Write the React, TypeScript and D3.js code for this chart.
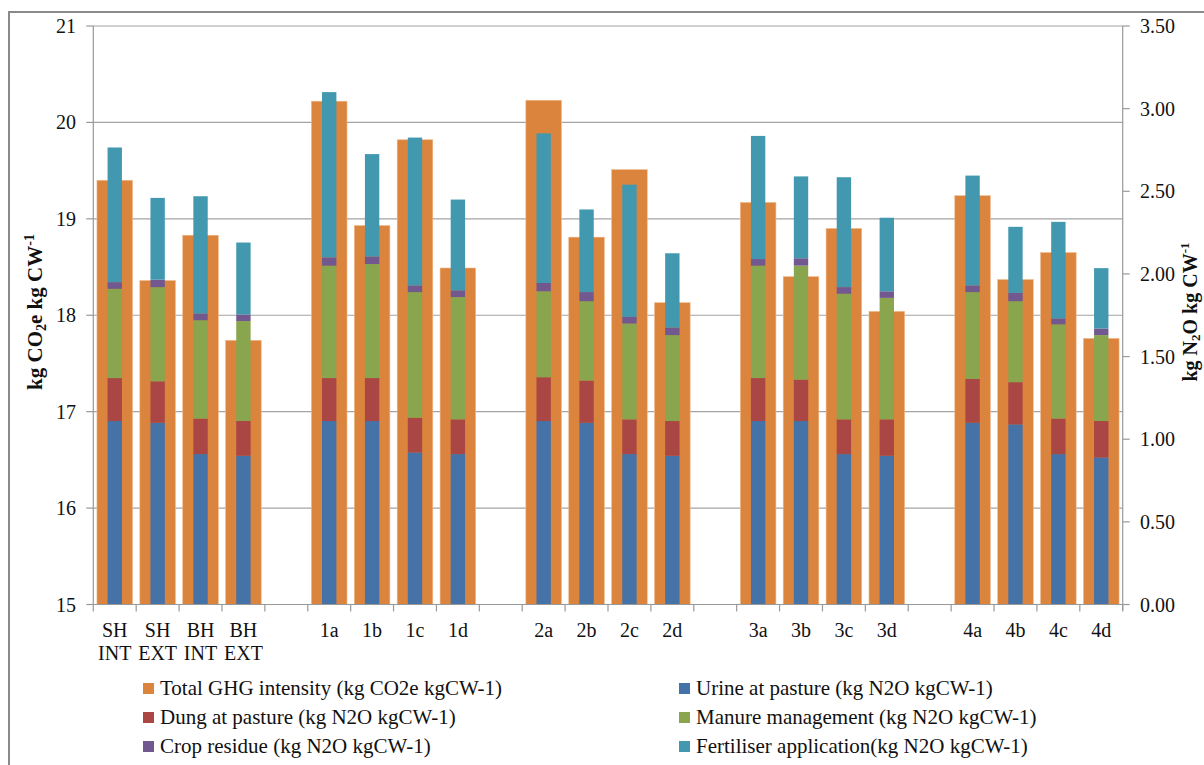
import React from 'react';
import * as d3 from 'd3';

const categories = ['SH INT', 'SH EXT', 'BH INT', 'BH EXT', '1a', '1b', '1c', '1d', '2a', '2b', '2c', '2d', '3a', '3b', '3c', '3d', '4a', '4b', '4c', '4d'];
const totalGHG = [19.40, 18.36, 18.83, 17.74, 20.22, 18.93, 19.82, 18.49, 20.23, 18.81, 19.51, 18.13, 19.17, 18.40, 18.90, 18.04, 19.24, 18.37, 18.65, 17.76];
const urine = [1.11, 1.10, 0.91, 0.90, 1.11, 1.11, 0.92, 0.91, 1.11, 1.10, 0.91, 0.90, 1.11, 1.11, 0.91, 0.90, 1.10, 1.09, 0.91, 0.89];
const dung = [0.26, 0.25, 0.215, 0.21, 0.26, 0.26, 0.21, 0.21, 0.265, 0.255, 0.21, 0.21, 0.26, 0.25, 0.21, 0.22, 0.265, 0.255, 0.215, 0.22];
const manure = [0.54, 0.57, 0.595, 0.605, 0.68, 0.69, 0.76, 0.74, 0.52, 0.48, 0.58, 0.52, 0.68, 0.69, 0.76, 0.735, 0.525, 0.49, 0.57, 0.52];
const crop = [0.04, 0.045, 0.04, 0.04, 0.05, 0.045, 0.04, 0.04, 0.05, 0.055, 0.04, 0.045, 0.04, 0.045, 0.04, 0.04, 0.04, 0.05, 0.035, 0.04];
const fert = [0.815, 0.495, 0.71, 0.435, 1.0, 0.62, 0.895, 0.55, 0.905, 0.5, 0.8, 0.45, 0.745, 0.495, 0.665, 0.445, 0.665, 0.4, 0.585, 0.365];

const leftTicks = [15, 16, 17, 18, 19, 20, 21];
const rightTicks = [0, 0.5, 1, 1.5, 2, 2.5, 3, 3.5];

const seriesKeys = ['urine', 'dung', 'manure', 'crop', 'fert'];
const colors: Record<string, string> = {
  total: '#DB843D',
  urine: '#4572A7',
  dung: '#AA4643',
  manure: '#89A54E',
  crop: '#71588F',
  fert: '#4198AF',
};

const legendItems = [
  { key: 'total', label: 'Total GHG intensity (kg CO2e kgCW-1)' },
  { key: 'urine', label: 'Urine at pasture (kg N2O kgCW-1)' },
  { key: 'dung', label: 'Dung at pasture (kg N2O kgCW-1)' },
  { key: 'manure', label: 'Manure management (kg N2O kgCW-1)' },
  { key: 'crop', label: 'Crop residue (kg N2O kgCW-1)' },
  { key: 'fert', label: 'Fertiliser application(kg N2O kgCW-1)' },
];

const W = 1204;
const H = 765;
const plot = { left: 93.3, right: 1122.7, top: 26, bottom: 604.5 };
const font = '"Liberation Serif", "Times New Roman", serif';

// slots: groups of 4 with an empty slot between them
const slots: string[] = [];
categories.forEach((c, i) => {
  slots.push(c);
  if (i % 4 === 3 && i < categories.length - 1) slots.push('gap' + i);
});

export default function App() {
  const x = d3.scaleBand<string>().domain(slots).range([plot.left, plot.right]).padding(0);
  const yL = d3.scaleLinear().domain([15, 21]).range([plot.bottom, plot.top]);
  const yR = d3.scaleLinear().domain([0, 3.5]).range([plot.bottom, plot.top]);
  const bw = x.bandwidth();
  const outerW = bw * 0.83;
  const innerW = bw * 0.335;

  const rows = categories.map((c, i) => ({
    cat: c,
    urine: urine[i],
    dung: dung[i],
    manure: manure[i],
    crop: crop[i],
    fert: fert[i],
  }));
  const stacked = d3.stack<any>().keys(seriesKeys)(rows);

  const boundaries = d3.range(slots.length + 1).map((i) => plot.left + i * bw);

  return (
    <svg width={W} height={H} style={{ position: 'absolute', left: 0, top: 0, background: '#fff' }} fontFamily={font}>
      <rect x={0} y={0} width={W} height={H} fill="#fff" />
      <rect x={9} y={12} width={W + 20} height={H + 20} fill="none" stroke="#8a8a8a" strokeWidth={2} />

      {/* gridlines */}
      {leftTicks.map((t) => (
        <line key={'g' + t} x1={plot.left} x2={plot.right} y1={yL(t)} y2={yL(t)} stroke="#a3a3a3" strokeWidth={1.2} />
      ))}

      {/* total GHG bars (left axis) */}
      {categories.map((c, i) => (
        <rect
          key={'t' + c}
          x={(x(c) as number) + (bw - outerW) / 2}
          y={yL(totalGHG[i])}
          width={outerW}
          height={yL(15) - yL(totalGHG[i])}
          fill={colors.total}
          stroke="#f0b98a"
          strokeWidth={0.6}
        />
      ))}

      {/* stacked N2O bars (right axis) */}
      {stacked.map((s) =>
        s.map((d: any) => (
          <rect
            key={s.key + d.data.cat}
            x={(x(d.data.cat) as number) + (bw - innerW) / 2}
            y={yR(d[1])}
            width={innerW}
            height={yR(d[0]) - yR(d[1])}
            fill={colors[s.key]}
          />
        ))
      )}

      {/* axes */}
      <line x1={plot.left} x2={plot.left} y1={plot.top} y2={plot.bottom} stroke="#999" strokeWidth={1.2} />
      <line x1={plot.right} x2={plot.right} y1={plot.top} y2={plot.bottom + 6} stroke="#999" strokeWidth={1.2} />
      <line x1={plot.left} x2={plot.right} y1={plot.bottom} y2={plot.bottom} stroke="#999" strokeWidth={1.2} />
      {boundaries.map((b, i) => (
        <line key={'xt' + i} x1={b} x2={b} y1={plot.bottom} y2={plot.bottom + 7} stroke="#999" strokeWidth={1.2} />
      ))}
      {leftTicks.map((t) => (
        <g key={'lt' + t}>
          <line x1={plot.left - 7} x2={plot.left} y1={yL(t)} y2={yL(t)} stroke="#999" strokeWidth={1.2} />
          <text x={76} y={yL(t)} dy="0.35em" textAnchor="end" fontSize={20} fill="#111">
            {t}
          </text>
        </g>
      ))}
      {rightTicks.map((t) => (
        <g key={'rt' + t}>
          <line x1={plot.right} x2={plot.right + 7} y1={yR(t)} y2={yR(t)} stroke="#999" strokeWidth={1.2} />
          <text x={1140} y={yR(t)} dy="0.35em" textAnchor="start" fontSize={20} fill="#111">
            {t.toFixed(2)}
          </text>
        </g>
      ))}

      {/* category labels */}
      {categories.map((c) => {
        const cx = (x(c) as number) + bw / 2;
        const parts = c.split(' ');
        return (
          <text key={'xl' + c} x={cx} y={637} textAnchor="middle" fontSize={20} fill="#111">
            {parts.map((p, j) => (
              <tspan key={j} x={cx} dy={j === 0 ? 0 : 23}>
                {p}
              </tspan>
            ))}
          </text>
        );
      })}

      {/* axis titles */}
      <text transform="translate(42,312) rotate(-90)" textAnchor="middle" fontSize={21} fontWeight="bold" fill="#111">
        kg CO<tspan fontSize={14} dy={4}>2</tspan>
        <tspan dy={-4}>e kg CW</tspan>
        <tspan fontSize={14} dy={-8}>-1</tspan>
      </text>
      <text transform="translate(1197,312) rotate(-90)" textAnchor="middle" fontSize={20} fontWeight="bold" fill="#111">
        kg N<tspan fontSize={13} dy={3}>2</tspan>
        <tspan dy={-3}>O kg CW</tspan>
        <tspan fontSize={13} dy={-8}>-1</tspan>
      </text>

      {/* legend */}
      {legendItems.map((item, i) => {
        const col = i % 2;
        const row = Math.floor(i / 2);
        const lx = col === 0 ? 143 : 679;
        const ly = 695 + row * 29;
        return (
          <g key={item.key}>
            <rect x={lx} y={ly - 12} width={11} height={11} fill={colors[item.key]} />
            <text x={lx + 17} y={ly} fontSize={21} fill="#111">
              {item.label}
            </text>
          </g>
        );
      })}
    </svg>
  );
}
